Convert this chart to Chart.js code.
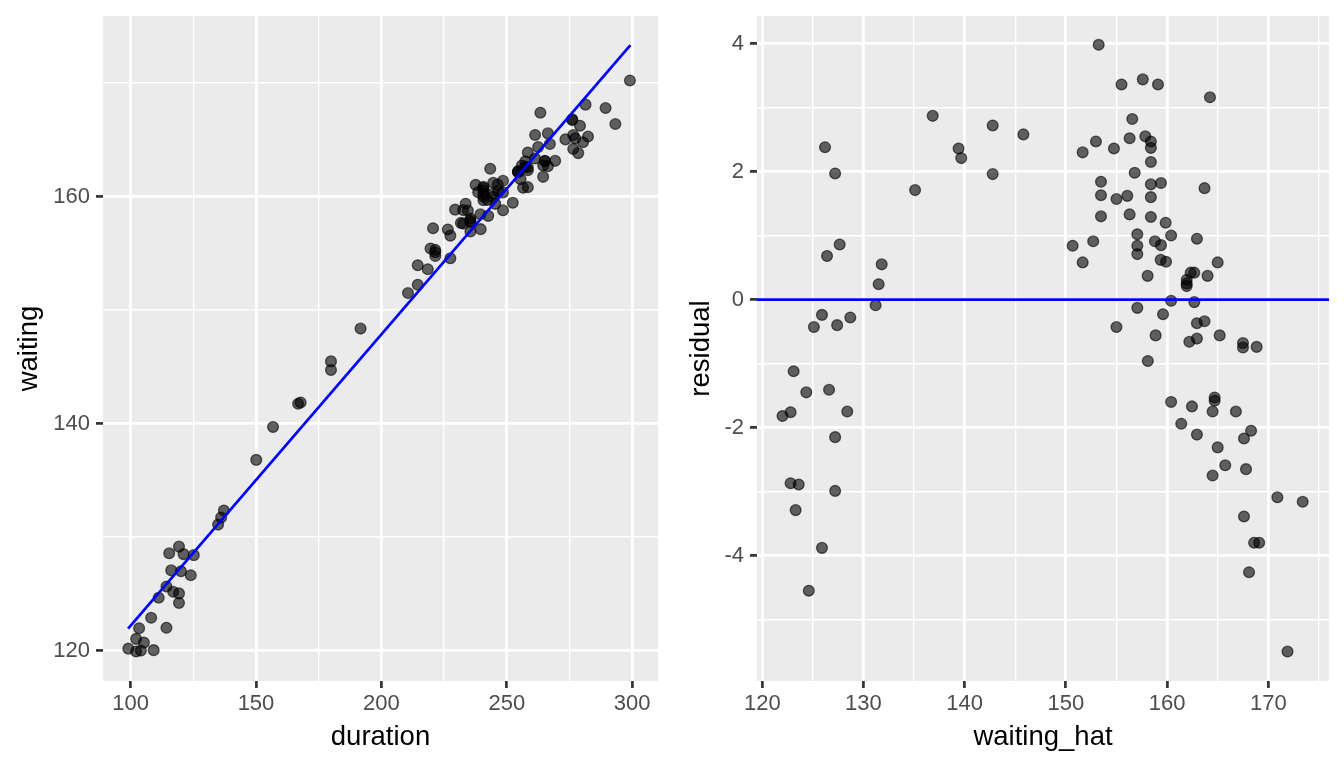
<!doctype html>
<html lang="en">
<head>
<meta charset="utf-8">
<title>waiting vs duration, residuals</title>
<script src="https://cdn.jsdelivr.net/npm/chart.js"></script>
<style>
  body { margin: 0; background: #ffffff; }
  .panel { position: absolute; top: 0; }
</style>
</head>
<body>
<canvas id="fitChart" class="panel" width="672" height="768" style="left:0px"></canvas>
<canvas id="residChart" class="panel" width="672" height="768" style="left:672px"></canvas>
<script>
// left panel: waiting against duration
const duration = [
  115.4, 119.3, 150.1, 121.1, 116.2, 137.2, 136.1, 134.9, 114.3, 125.2,
  111.2, 120.1, 103.4, 117.0, 108.2, 102.2, 99.1, 124.0, 119.3, 102.2,
  105.3, 119.3, 104.1, 114.3, 109.2,
  156.8, 179.9, 191.7, 166.8, 167.8, 179.9,
  220.6, 229.4, 237.6, 243.4, 263.4, 233.6, 219.6, 214.5, 226.5, 232.6,
  238.6, 240.7, 240.7, 240.7, 234.5, 221.5, 240.7, 244.6, 261.3, 221.5,
  227.5, 231.7, 240.7, 221.5, 232.6, 240.7, 246.4, 235.5, 248.5, 258.4,
  210.6, 218.5, 235.5, 242.3, 244.6, 235.5, 214.5, 244.5, 246.6, 266.4,
  239.5, 256.0, 257.4, 254.5, 254.5, 254.5, 262.5, 248.5, 257.4, 235.5,
  245.4, 227.5, 258.4, 261.3, 242.6, 255.5, 258.4, 267.2, 276.1, 276.1,
  281.4, 239.6, 248.5, 256.5, 265.2, 265.2, 264.5, 273.4, 252.4, 258.4,
  279.2, 276.5, 266.4, 269.3, 264.5, 277.3, 289.4, 299.1, 276.5, 280.4,
  282.4, 278.5, 293.3
];
const waiting = [
  128.58, 129.17, 136.81, 128.51, 127.08, 132.35, 131.74, 131.11, 125.66, 128.42,
  124.67, 127.00, 121.98, 125.19, 122.90, 121.04, 120.18, 126.65, 125.05, 119.93,
  120.71, 124.21, 120.01, 122.02, 120.05,
  139.71, 145.49, 148.38, 141.76, 141.87, 144.73,
  157.22, 158.86, 161.04, 162.46, 167.40, 159.38, 155.44, 153.96, 157.11, 158.82,
  160.40, 160.87, 160.77, 160.55, 158.78, 155.31, 160.20, 161.22, 165.44, 155.10,
  156.57, 157.69, 160.00, 154.77, 157.63, 159.69, 161.06, 158.08, 161.40, 163.90,
  151.51, 153.61, 157.90, 159.71, 160.25, 157.77, 152.24, 159.99, 160.49, 165.58,
  158.45, 162.75, 163.11, 162.25, 162.19, 162.15, 164.37, 160.38, 162.65, 156.93,
  159.37, 154.57, 162.58, 163.36, 158.31, 161.54, 162.34, 164.64, 166.82, 166.75,
  168.11, 157.14, 158.80, 160.79, 163.17, 163.12, 162.75, 165.05, 159.46, 160.84,
  166.25, 165.43, 162.69, 163.16, 161.75, 165.15, 167.81, 170.24, 164.21, 164.80,
  165.30, 163.84, 166.40
];
const fitDuration = [99.0, 299.3];
const fitWaiting = [121.95, 173.35];

// right panel: residual against waiting_hat
const waitingHat = [
  126.2, 127.2, 135.1, 127.65, 126.4, 131.8, 131.5, 131.2, 125.9, 128.7,
  125.1, 127.4, 123.1, 126.6, 124.35, 122.8, 122.0, 128.4, 127.2, 122.8,
  123.6, 127.2, 123.3, 125.9, 124.6,
  136.84, 142.77, 145.8, 139.4, 139.66, 142.77,
  153.24, 155.5, 157.6, 159.1, 164.24, 156.56, 152.97, 151.66, 154.75, 156.3,
  157.85, 158.4, 158.4, 158.4, 156.8, 153.47, 158.4, 159.4, 163.7, 153.47,
  155.0, 156.07, 158.4, 153.47, 156.3, 158.4, 159.86, 157.06, 160.4, 162.95,
  150.67, 152.7, 157.06, 158.8, 159.4, 157.06, 151.66, 159.37, 159.9, 165.0,
  158.08, 162.33, 162.69, 161.94, 161.94, 161.94, 164.0, 160.4, 162.69, 157.06,
  159.6, 155.0, 162.95, 163.7, 158.87, 162.2, 162.95, 165.2, 167.5, 167.5,
  168.85, 158.1, 160.4, 162.46, 164.7, 164.7, 164.5, 166.8, 161.4, 162.95,
  168.3, 167.6, 165.0, 165.75, 164.5, 167.8, 170.9, 173.4, 167.6, 168.6,
  169.1, 168.1, 171.9
];
const residual = [
  2.38, 1.97, 1.71, 0.86, 0.68, 0.55, 0.24, -0.09, -0.24, -0.28,
  -0.43, -0.40, -1.12, -1.41, -1.45, -1.76, -1.82, -1.75, -2.15, -2.87,
  -2.89, -2.99, -3.29, -3.88, -4.55,
  2.87, 2.72, 2.58, 2.36, 2.21, 1.96,
  3.98, 3.36, 3.44, 3.36, 3.16, 2.82, 2.47, 2.30, 2.36, 2.52,
  2.55, 2.47, 2.37, 2.15, 1.98, 1.84, 1.80, 1.82, 1.74, 1.63,
  1.57, 1.62, 1.60, 1.30, 1.33, 1.29, 1.20, 1.02, 1.00, 0.95,
  0.84, 0.91, 0.84, 0.91, 0.85, 0.71, 0.58, 0.62, 0.59, 0.58,
  0.37, 0.42, 0.42, 0.31, 0.25, 0.21, 0.37, -0.02, -0.04, -0.13,
  -0.23, -0.43, -0.37, -0.34, -0.56, -0.66, -0.61, -0.56, -0.68, -0.75,
  -0.74, -0.96, -1.60, -1.67, -1.53, -1.58, -1.75, -1.75, -1.94, -2.11,
  -2.05, -2.17, -2.31, -2.59, -2.75, -2.65, -3.09, -3.16, -3.39, -3.80,
  -3.80, -4.26, -5.50
];
const zeroResidual = 0;

// tick labels (major) and minor grid breaks
const fitXTicks = [100, 150, 200, 250, 300];
const fitXMinor = [125, 175, 225, 275];
const fitYTicks = [120, 140, 160];
const fitYMinor = [130, 150, 170];
const resXTicks = [120, 130, 140, 150, 160, 170];
const resXMinor = [125, 135, 145, 155, 165, 175];
const resYTicks = [-4, -2, 0, 2, 4];
const resYMinor = [-5, -3, -1, 1, 3];

const FONT = 'Liberation Sans';

// grey ggplot panel behind the grid
const panelBg = {
  id: 'panelBg',
  beforeDraw(chart) {
    const a = chart.chartArea;
    const ctx = chart.ctx;
    ctx.save();
    ctx.fillStyle = '#ebebeb';
    ctx.fillRect(a.left, a.top, a.right - a.left, a.bottom - a.top);
    ctx.restore();
  }
};

function axis(major, minor, min, max, title, isY, boxSize) {
  const all = major.concat(minor).sort((a, b) => a - b);
  const isMajor = v => major.indexOf(v) !== -1;
  return {
    type: 'linear',
    min: min,
    max: max,
    afterBuildTicks: s => { s.ticks = all.map(v => ({ value: v })); },
    afterFit: s => {
      if (isY) s.width = boxSize; else s.height = boxSize;
      // keep the panel exactly where the layout padding puts it
      s.paddingTop = 0; s.paddingBottom = 0;
      s.paddingLeft = 0; s.paddingRight = 0;
    },
    grid: {
      color: '#ffffff',
      lineWidth: c => (c.tick && isMajor(c.tick.value)) ? 2.8 : 1.4,
      tickColor: c => (c.tick && isMajor(c.tick.value)) ? '#333333' : 'rgba(0,0,0,0)',
      tickWidth: 2.7,
      tickLength: 7
    },
    border: { display: false },
    ticks: {
      autoSkip: false,
      maxRotation: 0,
      padding: isY ? 6 : 3,
      color: '#4d4d4d',
      font: { family: FONT, size: 22 },
      callback: v => isMajor(v) ? String(v) : ''
    },
    title: {
      display: true,
      text: title,
      color: '#000000',
      font: { family: FONT, size: 27.5 },
      padding: isY ? { top: 13 } : { bottom: 14 }
    }
  };
}

const pointStyle = {
  backgroundColor: 'rgba(0,0,0,0.6)',
  borderColor: 'rgba(0,0,0,0.6)',
  borderWidth: 1.3,
  pointRadius: 5.4
};

function baseOptions(scales, rightPad) {
  return {
    responsive: false,
    animation: false,
    devicePixelRatio: 1,
    layout: { padding: { left: 0, top: 16, right: rightPad, bottom: 0 } },
    plugins: { legend: { display: false }, tooltip: { enabled: false } },
    scales: scales
  };
}

new Chart(document.getElementById('fitChart'), {
  type: 'scatter',
  data: {
    datasets: [
      {
        type: 'line',
        data: fitDuration.map((d, i) => ({ x: d, y: fitWaiting[i] })),
        borderColor: '#0000ff',
        borderWidth: 2.7,
        pointRadius: 0,
        fill: false,
        order: 0
      },
      Object.assign({
        data: duration.map((d, i) => ({ x: d, y: waiting[i] })),
        order: 1
      }, pointStyle)
    ]
  },
  options: baseOptions({
    x: axis(fitXTicks, fitXMinor, 89.0, 310.3, 'duration', false, 87),
    y: axis(fitYTicks, fitYMinor, 117.33, 175.92, 'waiting', true, 103)
  }, 14),
  plugins: [panelBg]
});

const resXMin = 119.48, resXMax = 176.0;
new Chart(document.getElementById('residChart'), {
  type: 'scatter',
  data: {
    datasets: [
      {
        type: 'line',
        data: [{ x: resXMin, y: zeroResidual }, { x: resXMax, y: zeroResidual }],
        borderColor: '#0000ff',
        borderWidth: 2.7,
        pointRadius: 0,
        fill: false,
        order: 0
      },
      Object.assign({
        data: waitingHat.map((h, i) => ({ x: h, y: residual[i] })),
        order: 1
      }, pointStyle)
    ]
  },
  options: baseOptions({
    x: axis(resXTicks, resXMinor, resXMin, resXMax, 'waiting_hat', false, 87),
    y: axis(resYTicks, resYMinor, -5.96, 4.43, 'residual', true, 85)
  }, 15),
  plugins: [panelBg]
});
</script>
</body>
</html>
